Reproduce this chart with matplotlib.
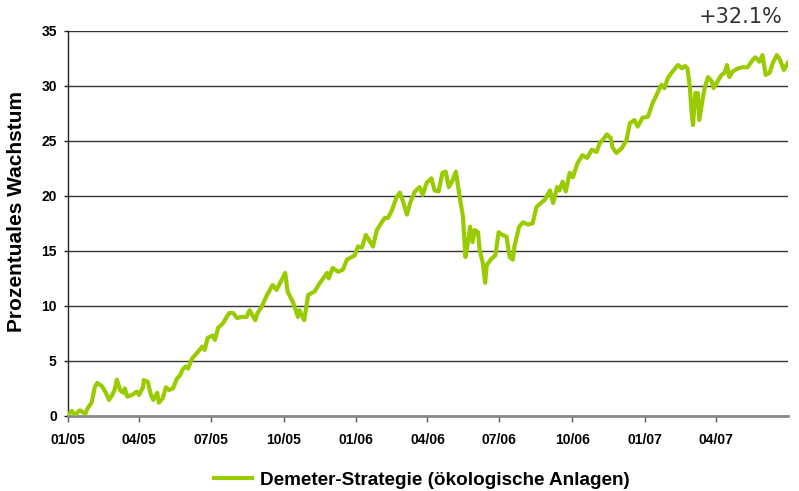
import matplotlib
matplotlib.use("Agg")
import matplotlib.pyplot as plt
import numpy as np

# Days since 2005-01-01 and cumulative growth in percent
days = [0, 5, 9, 15, 22, 25, 30, 34, 37, 43, 48, 52, 56, 59, 62, 66, 70, 72, 75, 81,
        87, 90, 95, 96, 101, 105, 108, 113, 115, 120, 124, 128, 133, 138, 142, 145, 149,
        152, 157, 163, 170, 173, 177, 183, 186, 190, 196, 204, 209, 214, 220, 226, 230,
        237, 240, 245, 252, 259, 264, 275, 278, 285, 291, 293, 299, 304, 312, 319, 328,
        330, 335, 342, 348, 353, 363, 367, 372, 377, 381, 386, 391, 397, 401, 405, 410,
        416, 420, 424, 429, 433, 439, 445, 449, 454, 460, 464, 469, 474, 478, 482, 486,
        491, 493, 497, 500, 503, 506, 509, 512, 515, 519, 521, 525, 528, 530, 536, 541,
        545, 550, 555, 559, 563, 565, 571, 576, 582, 588, 593, 600, 603, 610, 614, 619,
        622, 626, 630, 635, 639, 645, 651, 657, 663, 669, 673, 677, 682, 687, 689, 694,
        701, 707, 711, 717, 721, 727, 734, 740, 746, 751, 755, 759, 765, 772, 777, 781,
        784, 787, 789, 791, 794, 797, 799, 803, 806, 810, 815, 817, 822, 827, 831, 834,
        837, 841, 848, 854, 860, 867, 870, 875, 879, 883, 888, 892, 897, 901, 906, 911]
growth = [0.1, 0.45, 0.1, 0.5, 0.2, 0.7, 1.2, 2.6, 3.0, 2.7, 2.1, 1.45, 1.9, 2.35, 3.3,
          2.35, 2.1, 2.5, 1.75, 1.9, 2.2, 1.9, 2.6, 3.25, 3.1, 1.9, 1.45, 2.1, 1.2, 1.6,
          2.6, 2.35, 2.5, 3.4, 3.7, 4.2, 4.5, 4.3, 5.2, 5.7, 6.3, 6.0, 7.1, 7.3, 6.9, 8.0,
          8.4, 9.35, 9.35, 8.9, 9.0, 9.0, 9.6, 8.7, 9.35, 9.9, 11.0, 11.9, 11.45, 13.0,
          11.3, 10.3, 9.0, 9.6, 8.7, 11.0, 11.3, 12.1, 13.0, 12.5, 13.45, 13.1, 13.3, 14.2,
          14.6, 15.4, 15.3, 16.45, 16.0, 15.4, 16.9, 17.6, 18.0, 18.0, 18.7, 19.9, 20.3,
          19.5, 18.3, 19.35, 20.4, 20.8, 20.1, 21.2, 21.6, 20.5, 20.4, 22.1, 22.2, 20.8,
          21.3, 22.2, 21.2, 19.35, 18.1, 14.45, 15.7, 17.2, 15.8, 16.9, 16.7, 15.1, 13.9,
          12.1, 13.7, 14.3, 14.6, 16.7, 16.45, 16.3, 14.45, 14.2, 15.4, 17.2, 17.6, 17.4,
          17.5, 19.0, 19.45, 19.6, 20.5, 19.35, 20.8, 20.5, 21.3, 20.4, 22.1, 21.7, 23.0,
          23.7, 23.45, 24.2, 24.0, 24.8, 25.1, 25.6, 25.25, 24.45, 23.9, 24.35, 25.1, 26.6,
          26.9, 26.3, 27.1, 27.2, 28.45, 29.35, 30.1, 29.8, 30.7, 31.3, 31.9, 31.6, 31.8,
          31.6, 29.9, 27.8, 26.45, 29.35, 29.35, 26.9, 28.7, 29.9, 30.8, 30.4, 29.8, 30.4,
          31.0, 31.2, 31.9, 30.8, 31.3, 31.6, 31.7, 31.7, 32.4, 32.6, 32.2, 32.8, 31.0,
          31.2, 32.1, 32.8, 32.4, 31.45, 32.1]

series_label = "Demeter-Strategie (ökologische Anlagen)"
final_label = "+32.1%"
start = np.datetime64("2005-01-01")
end = np.datetime64("2007-07-01")
tick_dates = ["2005-01-01", "2005-04-01", "2005-07-01", "2005-10-01", "2006-01-01",
              "2006-04-01", "2006-07-01", "2006-10-01", "2007-01-01", "2007-04-01"]
tick_labels = ["01/05", "04/05", "07/05", "10/05", "01/06",
               "04/06", "07/06", "10/06", "01/07", "04/07"]

plt.rcParams["font.family"] = ["Liberation Sans", "DejaVu Sans"]

dates = start + np.array(days).astype("timedelta64[D]")

fig = plt.figure(figsize=(7.99, 4.91), dpi=100)
ax = fig.add_axes([0.085, 0.153, 0.901, 0.784])

ax.plot(dates, growth, color="#99CC00", lw=3, label=series_label, zorder=3)

ax.set_xlim(start, end)
ax.set_ylim(0, 35)
ax.set_yticks(range(0, 36, 5))
ax.set_xticks([np.datetime64(d) for d in tick_dates])
ax.set_xticklabels(tick_labels)

# horizontal grid lines, drawn by hand so they sit under the series
for y in range(5, 36, 5):
    ax.axhline(y, color="#333333", lw=1, zorder=1)

for s in ["top", "right"]:
    ax.spines[s].set_visible(False)
ax.spines["left"].set_color("#222222")
ax.spines["left"].set_linewidth(1)
ax.spines["bottom"].set_color("#888888")
ax.spines["bottom"].set_linewidth(2)

ax.tick_params(axis="x", length=4, width=1, color="#555555", pad=8)
ax.tick_params(axis="y", length=3, width=1, color="#222222", pad=5)
for t in ax.get_xticklabels() + ax.get_yticklabels():
    t.set_fontweight("bold")
    t.set_fontsize(10)

ax.set_ylabel("Prozentuales Wachstum", fontsize=15, fontweight="bold")
ax.yaxis.set_label_coords(-0.058, 0.532)

fig.text(0.979, 0.965, final_label, ha="right", va="center", fontsize=15,
         color="#333333", family=["DejaVu Sans"])

fig.legend(loc="center", bbox_to_anchor=(0.528, 0.022), frameon=False,
           handlelength=2.0, handletextpad=0.4,
           prop={"weight": "bold", "size": 13.6})

fig.savefig("out.png", dpi=100, facecolor="white")
